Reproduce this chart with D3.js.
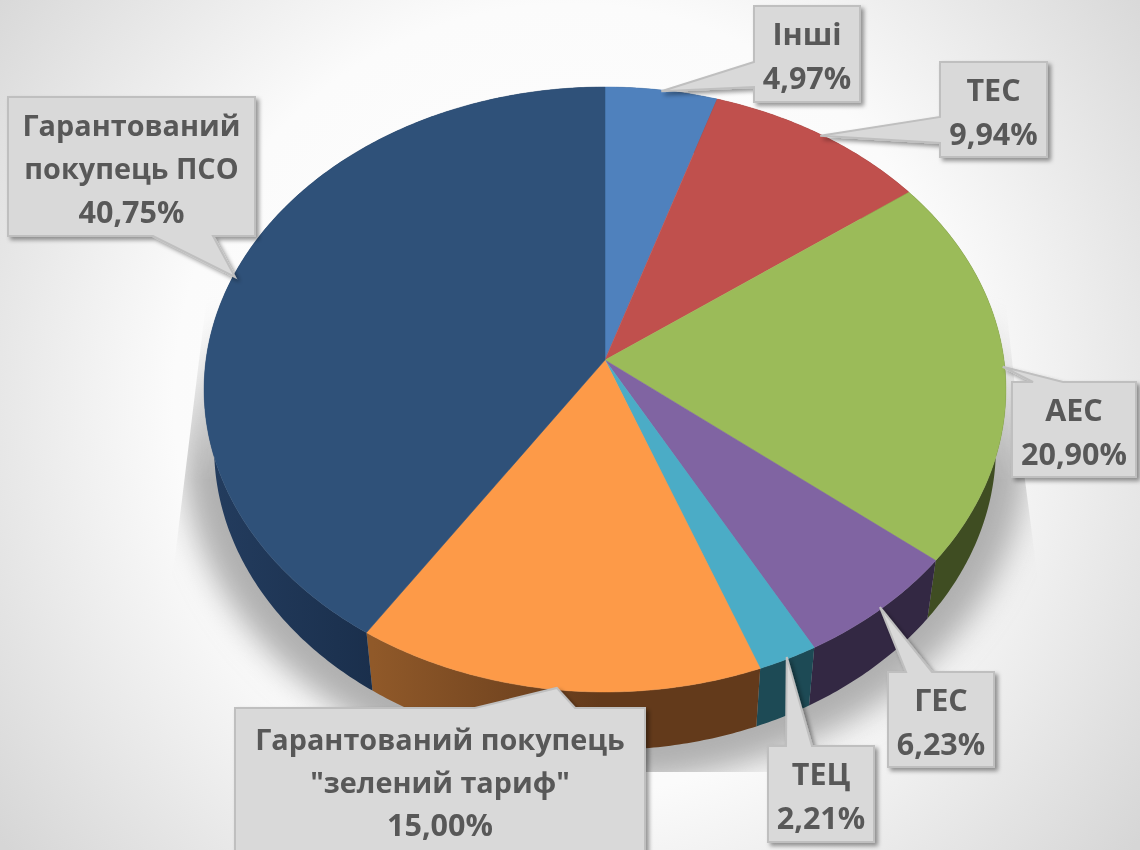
<!DOCTYPE html>
<meta charset="utf-8">
<style>
    html, body { margin: 0; padding: 0; overflow: hidden; background: #fff; }
    svg { display: block; }
    text { font-family: "Open Sans", sans-serif; font-weight: 700; font-size: 28.8px; fill: #595959; text-anchor: middle; dominant-baseline: central; }
    text.big { font-size: 30.5px; }
</style>
<svg width="1140" height="850"></svg>
<script src="https://d3js.org/d3.v7.min.js"></script>
<script>
    // chart data
    const categories = ['Інші', 'ТЕС', 'АЕС', 'ГЕС', 'ТЕЦ', 'Гарантований покупець "зелений тариф"', 'Гарантований покупець ПСО']
    const shares = [4.97, 9.94, 20.90, 6.23, 2.21, 15.00, 40.75]
    const shareLabels = ['4,97%', '9,94%', '20,90%', '6,23%', '2,21%', '15,00%', '40,75%']
    const labelLines = [['Інші'], ['ТЕС'], ['АЕС'], ['ГЕС'], ['ТЕЦ'], ['Гарантований покупець', '"зелений тариф"'], ['Гарантований', 'покупець ПСО']]
    const topColors = ['#4f81bd', '#c0504d', '#9bbb59', '#8064a2', '#4bacc6', '#fd9a48', '#2f5179']
    const sideColors = ['#2a4566', '#672b29', '#3f4d22', '#332843', '#1d4a55', '#633a1b', '#1c3353']

    // callout boxes: x0, y0, x1, y1, then the two base points of the pointer
    const boxes = [
        [754, 6, 860, 102, [754, 62], [754, 87]],
        [940, 62, 1047, 157, [940, 117], [940, 143]],
        [1012, 382, 1136, 477, [1033, 382], [1063, 382]],
        [888, 672, 994, 767, [906, 672], [932, 672]],
        [768, 746, 874, 842, [786, 746], [812, 746]],
        [235, 708, 645, 870, [475, 708], [575, 708]],
        [8, 97, 255, 236, [153, 236], [213, 236]]
    ]

    const svg = d3.select('svg')
    const width = 1140, height = 850
    const defs = svg.append('defs')

    // the disc is a perspective view: top and bottom of the circle are not the same size on screen
    const cx = 605, cy = 360, rx0 = 399, ry0 = 299.6, persp = 0.0975
    const depth = 58, bottomScale = 0.975

    function topPoint(angle, r) {
        r = r === undefined ? 1 : r
        const X = Math.sin(angle) * r, Y = Math.cos(angle) * r
        const w = 1 + persp * Y
        return [cx + rx0 * X / w, cy - ry0 * Y / w]
    }
    function bottomPoint(angle) {
        const p = topPoint(angle)
        return [cx + (p[0] - cx) * bottomScale, p[1] + depth]
    }
    function arcAngles(a0, a1) {
        const n = Math.max(2, Math.ceil((a1 - a0) / 0.01))
        return d3.range(n + 1).map(i => a0 + (a1 - a0) * i / n)
    }

    const line = d3.line()
    const arcs = d3.pie().sort(null).value(d => d)(shares)

    // background
    const bg = defs.append('radialGradient').attr('id', 'bg').attr('gradientUnits', 'userSpaceOnUse')
        .attr('cx', 570).attr('cy', 400).attr('r', 720)
    bg.append('stop').attr('offset', 0).attr('stop-color', '#ffffff')
    bg.append('stop').attr('offset', 0.55).attr('stop-color', '#fbfbfb')
    bg.append('stop').attr('offset', 1).attr('stop-color', '#d6d6d6')
    svg.append('rect').attr('width', width).attr('height', height).attr('fill', 'url(#bg)')

    // soft shadow behind the disc, cut off like the reference and fading out upwards
    defs.append('filter').attr('id', 'blur').attr('x', '-20%').attr('y', '-20%').attr('width', '140%').attr('height', '140%')
        .append('feGaussianBlur').attr('stdDeviation', 15)
    defs.append('clipPath').attr('id', 'shadowClip').append('path')
        .attr('d', line([[207, 295], [175, 557], [130, 772], [1065, 772], [1035, 557], [1025, 480], [1005, 295]]) + 'Z')
    const fade = defs.append('linearGradient').attr('id', 'fade').attr('gradientUnits', 'userSpaceOnUse')
        .attr('x1', 0).attr('x2', 0).attr('y1', 295).attr('y2', 480)
    fade.append('stop').attr('offset', 0).attr('stop-color', '#000')
    fade.append('stop').attr('offset', 1).attr('stop-color', '#fff')
    defs.append('mask').attr('id', 'shadowMask').attr('maskUnits', 'userSpaceOnUse')
        .attr('x', 0).attr('y', 0).attr('width', width).attr('height', height)
        .append('rect').attr('width', width).attr('height', height).attr('fill', 'url(#fade)')
    const all = arcAngles(0, 2 * Math.PI)
    svg.append('g').attr('clip-path', 'url(#shadowClip)').attr('mask', 'url(#shadowMask)').append('path')
        .attr('d', line(all.map(a => {
            const p = bottomPoint(a)
            return [cx + (p[0] - cx) * 1.08, 420 + (p[1] - 420) * 1.1]
        })) + 'Z')
        .attr('fill', '#b0b0b0')
        .attr('filter', 'url(#blur)')

    // orange and navy walls get a little shading from left to right
    const sideFill = sideColors.slice()
    function wallGradient(id, x0, x1, c0, c1) {
        const g = defs.append('linearGradient').attr('id', id).attr('gradientUnits', 'userSpaceOnUse')
            .attr('x1', x0).attr('x2', x1).attr('y1', 0).attr('y2', 0)
        g.append('stop').attr('offset', 0).attr('stop-color', c0)
        g.append('stop').attr('offset', 1).attr('stop-color', c1)
    }
    wallGradient('wallOrange', 373, 600, '#905929', '#633a1b')
    wallGradient('wallNavy', 214, 373, '#233c5e', '#1a2f4c')
    sideFill[5] = 'url(#wallOrange)'
    sideFill[6] = 'url(#wallNavy)'

    // walls
    svg.append('g').selectAll('path').data(arcs).join('path')
        .attr('d', d => {
            const as = arcAngles(d.startAngle, d.endAngle)
            return line(as.map(a => topPoint(a)).concat(as.slice().reverse().map(bottomPoint))) + 'Z'
        })
        .attr('fill', (d, i) => sideFill[i])

    // top face
    svg.append('g').selectAll('path').data(arcs).join('path')
        .attr('d', d => line([[cx, cy]].concat(arcAngles(d.startAngle, d.endAngle).map(a => topPoint(a)))) + 'Z')
        .attr('fill', (d, i) => topColors[i])
        .attr('stroke', (d, i) => topColors[i])
        .attr('stroke-width', 0.5)

    // callouts
    defs.append('filter').attr('id', 'boxShadow').attr('x', '-10%').attr('y', '-10%').attr('width', '120%').attr('height', '125%')
        .append('feDropShadow').attr('dx', 3).attr('dy', 3).attr('stdDeviation', 2).attr('flood-color', '#000').attr('flood-opacity', 0.4)
    defs.append('filter').attr('id', 'soft').append('feGaussianBlur').attr('stdDeviation', 0.35)

    const callouts = svg.append('g').selectAll('g').data(arcs).join('g')
    callouts.append('path')
        .attr('d', (d, i) => {
            const b = boxes[i]
            const tip = topPoint((d.startAngle + d.endAngle) / 2, 0.995)
            // walk round the box and put the pointer in on the side its base sits on
            const c = [[b[0], b[1]], [b[2], b[1]], [b[2], b[3]], [b[0], b[3]]]
            let pts
            if (b[4][1] === b[1]) pts = [c[0], b[4], tip, b[5], c[1], c[2], c[3]]
            else if (b[4][1] === b[3]) pts = [c[0], c[1], c[2], b[5], tip, b[4], c[3]]
            else pts = [c[0], c[1], c[2], c[3], b[5], tip, b[4]]
            return line(pts) + 'Z'
        })
        .attr('fill', '#d9d9d9')
        .attr('stroke', '#bfbfbf')
        .attr('stroke-width', 2)
        .attr('filter', 'url(#boxShadow)')

    callouts.each(function (d, i) {
        const b = boxes[i]
        const lines = labelLines[i].concat([shareLabels[i]])
        const mid = i === 5 ? 780 : (b[1] + b[3]) / 2
        const step = lines.length === 3 ? 43 : 44
        d3.select(this).selectAll('text').data(lines).join('text')
            .attr('class', t => t.length < 8 ? 'big' : null)
            .attr('x', (b[0] + b[2]) / 2)
            .attr('y', (t, k) => mid + (k - (lines.length - 1) / 2) * step + 1)
            .attr('filter', 'url(#soft)')
            .text(t => t)
    })
</script>
